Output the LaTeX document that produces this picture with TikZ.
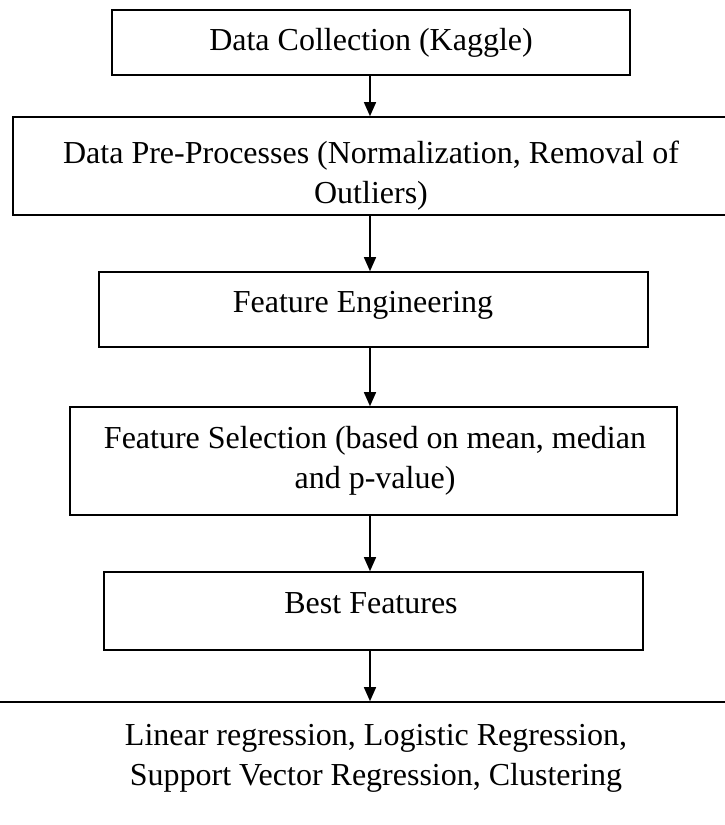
\documentclass[tikz,border=0pt]{standalone}
\usepackage{fontspec}
\setmainfont{Liberation Serif}
\usetikzlibrary{arrows.meta}
\tikzset{
  stepbox/.style={draw=black, line width=1.6pt, inner sep=0pt, fill=none},
  txt/.style={font=\fontsize{32}{40}\selectfont, inner sep=0pt, anchor=base, align=center},
  arr/.style={draw=black, line width=1.4pt, -{Triangle[width=12pt,length=14pt]}}
}
\newcommand{\twolines}[2]{\begin{tabular}[t]{@{}c@{}}#1\\#2\end{tabular}}
\begin{document}
\begin{tikzpicture}[x=1pt,y=-1pt]
\useasboundingbox[fill=white] (0,0) rectangle (724,825);
% boxes
\node[stepbox, minimum width=518pt, minimum height=65pt] (b1) at (371,42.5) {};
\node[stepbox, minimum width=714pt, minimum height=98pt] (b2) at (370,166) {};
\node[stepbox, minimum width=549pt, minimum height=75pt] (b3) at (373.5,309.5) {};
\node[stepbox, minimum width=607pt, minimum height=108pt] (b4) at (373.5,461) {};
\node[stepbox, minimum width=539pt, minimum height=78pt] (b5) at (373.5,611) {};
\node[stepbox, minimum width=780pt, minimum height=200pt] (b6) at (370,802) {};
% texts
\node[txt] (t1) at (371,50) {Data Collection (Kaggle)};
\node[txt] (t2) at (371,163) {\twolines{Data Pre-Processes (Normalization, Removal of}{Outliers)}};
\node[txt] (t3) at (363,312) {Feature Engineering};
\node[txt] (t4) at (375,448) {\twolines{Feature Selection (based on mean, median}{and p-value)}};
\node[txt] (t5) at (371,613) {Best Features};
\node[txt] (t6) at (376,745) {\twolines{Linear regression, Logistic Regression,}{Support Vector Regression, Clustering}};
% connectors
\coordinate (ax) at (370,0);
\draw[arr] (b1.south -| ax) -- (b2.north -| ax);
\draw[arr] (b2.south -| ax) -- (b3.north -| ax);
\draw[arr] (b3.south -| ax) -- (b4.north -| ax);
\draw[arr] (b4.south -| ax) -- (b5.north -| ax);
\draw[arr] (b5.south -| ax) -- (b6.north -| ax);
\end{tikzpicture}
\end{document}
